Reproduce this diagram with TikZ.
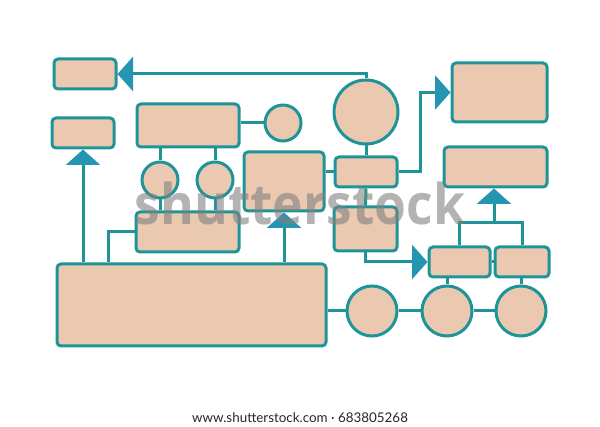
\documentclass[tikz,border=0pt]{standalone}
\usepackage{fontspec}
\setmainfont{Lato}
\newfontfamily\wmfont{Open Sans}
\usetikzlibrary{arrows.meta,calc}
\definecolor{edge}{HTML}{1E9499}
\definecolor{peach}{HTML}{EBC9B1}
\definecolor{tri}{HTML}{2596B1}
\tikzset{
  box/.style={draw=edge, fill=peach, line width=3pt, rounded corners=4pt, inner sep=0pt},
  circ/.style={draw=edge, fill=peach, line width=3pt, circle, inner sep=0pt},
  conn/.style={draw=edge, line width=3pt},
  tip/.style={-{Triangle[length=15.5pt 0 0,width=34pt 0 0,fill=tri,color=tri]}},
}
\newcommand{\bx}[5]{\node[box, minimum width=#4pt, minimum height=#5pt] (#1) at (#2,#3) {};}
\newcommand{\cc}[4]{\node[circ, minimum size=#4pt] (#1) at (#2,#3) {};}
\begin{document}
\begin{tikzpicture}[x=1pt,y=-1pt]
\useasboundingbox (0,0) rectangle (600,427);
% boxes
\bx{b1}{85}{74}{62}{30}
\bx{b2}{83}{133}{62}{30}
\bx{b3}{188}{125.5}{102}{43}
\bx{b4}{284}{181.5}{80}{59}
\bx{b5}{366}{172}{62}{30}
\bx{b6}{499.5}{92.5}{95}{59}
\bx{b7}{495.5}{167}{103}{40}
\bx{b8}{187.5}{232}{103}{40}
\bx{b9}{365.5}{229}{63}{44}
\bx{b10}{459.5}{262}{61}{30}
\bx{b11}{522}{262}{54}{30}
\bx{big}{191.5}{305}{269}{82}
% circles
\cc{c1}{283}{123}{36}
\cc{c2}{160}{180}{36}
\cc{c3}{215}{180}{36}
\cc{cb}{366}{112}{64}
\cc{c4}{372}{311}{50}
\cc{c5}{447}{311}{50}
\cc{c6}{521}{311}{50}
\coordinate (tj) at (494,223);
% connectors
\draw[conn,tip] (cb.north) |- (b1.east);
\draw[conn,tip] (big.north -| b2.south) -- (b2.south);
\draw[conn] (c1.west) -- (c1.west -| b3.east);
\draw[conn] (c2.north) -- (c2.north |- b3.south);
\draw[conn] (c3.north) -- (c3.north |- b3.south);
\draw[conn] (c2.south) -- (c2.south |- b8.north);
\draw[conn] (c3.south) -- (c3.south |- b8.north);
\draw[conn] (b8.west) -| ([xshift=53pt]big.north west);
\draw[conn,tip] (big.north -| b4.south) -- (b4.south);
\draw[conn] (b5.west) -- (b5.west -| b4.east);
\draw[conn] (cb.south) -- (b5.north);
\draw[conn,tip] (b5.east) -- ++(22,0) |- (b6.west);
\draw[conn] (b5.south) -- (b9.north);
\draw[conn,tip] (b9.south) |- (b10.west);
\draw[conn] (b10.east) -- (b11.west);
\draw[conn] (b10.north) |- (tj) -| (b11.north);
\draw[conn,tip] (tj) -- (tj |- b7.south);
\draw[conn] (c4.west) -- (c4.west -| big.east);
\draw[conn] (c4.east) -- (c5.west);
\draw[conn] (c5.east) -- (c6.west);
\draw[conn] (c5.north) -- (c5.north |- b10.south);
\draw[conn] (c6.north) -- (c6.north |- b11.south);
% watermark
\node[text=gray, opacity=0.6, inner sep=0pt, anchor=base, xscale=0.92] (wm) at (300,225) {\wmfont\bfseries\fontsize{56}{56}\selectfont shutterstock};
% footer
\node[text=black!85, inner sep=0pt] (ft) at (300,418) {\fontsize{13.4}{13.4}\selectfont www.shutterstock.com · 683805268};
\end{tikzpicture}
\end{document}
